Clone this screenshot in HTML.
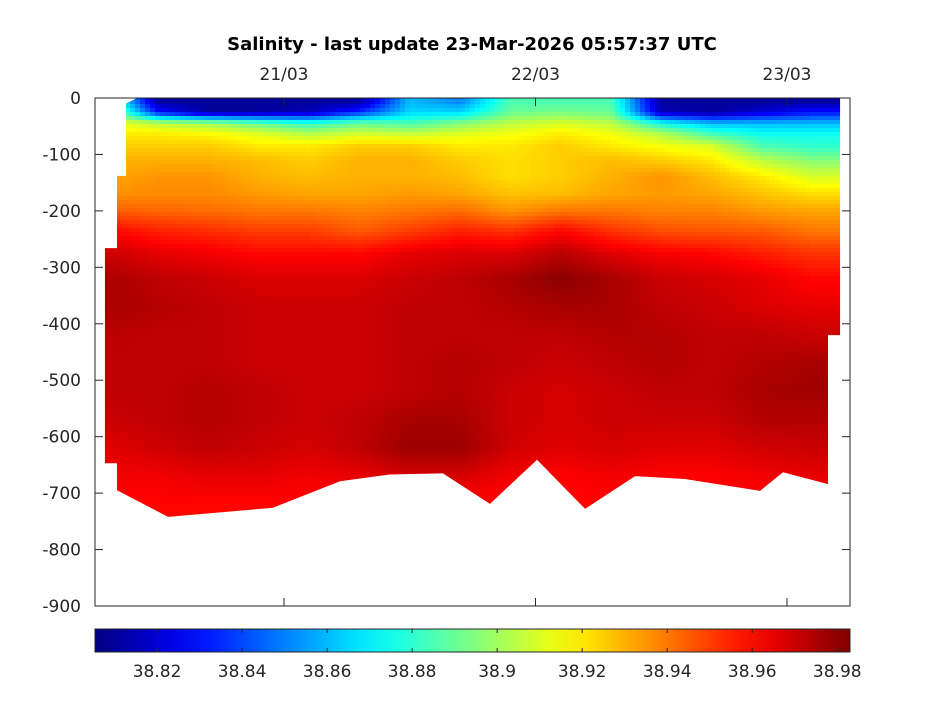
<!DOCTYPE html>
<html><head><meta charset="utf-8"><style>
body{margin:0;background:#fff;}
svg text{font-family:"DejaVu Sans","Liberation Sans",sans-serif;fill:#262626;}
</style></head><body>
<svg id="chart" width="945" height="709" viewBox="0 0 945 709" xmlns="http://www.w3.org/2000/svg">
<defs>
<linearGradient id="jetgrad" x1="0" x2="1" y1="0" y2="0"></linearGradient>
<clipPath id="dataclip"><polygon id="clipPoly"/></clipPath>
</defs>
<rect x="0" y="0" width="945" height="709" fill="#fff"/>
<text x="472" y="50" text-anchor="middle" font-size="18" font-weight="bold" style="fill:#000">Salinity - last update 23-Mar-2026 05:57:37 UTC</text>
<g clip-path="url(#dataclip)"><g id="cells" shape-rendering="crispEdges"></g></g>
<g id="axes"></g>
<rect x="95" y="629" width="755" height="23" fill="url(#jetgrad)" stroke="#262626" stroke-width="1"/>
<g id="cbticks"></g>
</svg>
<script>
const colTimes=[-0.7,-0.5,-0.3,-0.1,0.1,0.3,0.5,0.7,0.9,1.1,1.3,1.5,1.7,1.9,2.1];
const depthLevels=[5,25,45,65,85,110,140,170,200,235,275,320,370,420,470,520,570,620,670,720];
const salinity=[
[38.89,38.81,38.81,38.81,38.81,38.81,38.86,38.85,38.885,38.885,38.885,38.81,38.81,38.81,38.81],
[38.905,38.83,38.81,38.81,38.815,38.835,38.865,38.865,38.89,38.893,38.89,38.815,38.81,38.82,38.83],
[38.915,38.905,38.9,38.89,38.88,38.89,38.885,38.895,38.905,38.91,38.905,38.875,38.86,38.86,38.86],
[38.92,38.92,38.918,38.912,38.905,38.91,38.908,38.912,38.915,38.92,38.915,38.905,38.885,38.875,38.875],
[38.925,38.925,38.925,38.92,38.92,38.925,38.925,38.92,38.92,38.925,38.92,38.915,38.91,38.885,38.88],
[38.93,38.93,38.93,38.928,38.925,38.93,38.93,38.925,38.922,38.925,38.928,38.925,38.92,38.905,38.895],
[38.932,38.935,38.935,38.93,38.928,38.93,38.93,38.928,38.922,38.925,38.93,38.935,38.928,38.92,38.91],
[38.935,38.937,38.937,38.934,38.932,38.932,38.934,38.932,38.927,38.928,38.932,38.934,38.932,38.927,38.922],
[38.945,38.943,38.942,38.94,38.94,38.938,38.94,38.942,38.935,38.94,38.94,38.938,38.938,38.934,38.932],
[38.96,38.955,38.953,38.95,38.95,38.945,38.95,38.955,38.952,38.96,38.952,38.947,38.946,38.945,38.94],
[38.97,38.965,38.963,38.96,38.96,38.96,38.965,38.967,38.967,38.973,38.966,38.962,38.96,38.956,38.952],
[38.976,38.972,38.97,38.967,38.967,38.967,38.97,38.972,38.976,38.981,38.976,38.97,38.968,38.965,38.96],
[38.976,38.974,38.972,38.97,38.97,38.97,38.972,38.972,38.974,38.976,38.976,38.972,38.97,38.967,38.965],
[38.973,38.972,38.972,38.97,38.97,38.97,38.972,38.972,38.972,38.972,38.974,38.974,38.972,38.972,38.97],
[38.972,38.972,38.972,38.97,38.97,38.97,38.972,38.974,38.972,38.97,38.972,38.974,38.972,38.974,38.976],
[38.972,38.972,38.974,38.972,38.97,38.97,38.972,38.974,38.97,38.968,38.97,38.972,38.972,38.976,38.977],
[38.97,38.972,38.974,38.972,38.97,38.972,38.976,38.976,38.97,38.968,38.97,38.97,38.97,38.974,38.974],
[38.966,38.969,38.972,38.97,38.968,38.972,38.978,38.978,38.969,38.966,38.968,38.966,38.966,38.969,38.97],
[38.963,38.963,38.965,38.965,38.963,38.965,38.968,38.968,38.963,38.961,38.963,38.961,38.961,38.963,38.965],
[38.96,38.96,38.96,38.96,38.96,38.96,38.96,38.96,38.96,38.96,38.96,38.96,38.96,38.96,38.96]
];
const outlineTimes=[-0.712,-0.664,-0.664,-0.628,-0.628,-0.584,2.211,2.211,2.163,2.163,1.984,1.893,1.594,1.396,1.197,1.006,0.819,0.632,0.421,0.223,-0.044,-0.461,-0.664,-0.664,-0.712];
const outlineDepths=[266,266,138,138,10,0,0,420,420,684,663,696,675,670,728,641,719,665,667,679,726,742,695,647,647];
const yTicks=[0,100,200,300,400,500,600,700,800,900];
const yTickLabels=["0","-100","-200","-300","-400","-500","-600","-700","-800","-900"];
const xTicks=[0,1,2];
const xTickLabels=["21/03","22/03","23/03"];
const cbTicks=[38.82,38.84,38.86,38.88,38.9,38.92,38.94,38.96,38.98];
const cbTickLabels=["38.82","38.84","38.86","38.88","38.9","38.92","38.94","38.96","38.98"];
const cMin=38.8054,cMax=38.983;
const NS="http://www.w3.org/2000/svg";
const X=t=>284+251.5*t;
const Xinv=x=>(x-284)/251.5;
const Y=d=>98+d*(508/900);
const Yinv=y=>(y-98)*900/508;
const CB=v=>95+(v-cMin)/(cMax-cMin)*755;
function jet(v){let n=(v-cMin)/(cMax-cMin);n=Math.max(0,Math.min(1,n));
 const c=x=>Math.round(255*Math.max(0,Math.min(1,1.5-Math.abs(x))));
 return `rgb(${c(4*n-3)},${c(4*n-2)},${c(4*n-1)})`;}
function mk(tag,attrs,parent){const e=document.createElementNS(NS,tag);for(const k in attrs)e.setAttribute(k,attrs[k]);parent.appendChild(e);return e;}
function locate(arr,v){if(v<=arr[0])return [0,0,0];const n=arr.length-1;if(v>=arr[n])return [n,n,0];
 for(let i=0;i<n;i++){if(v>=arr[i]&&v<=arr[i+1])return [i,i+1,(v-arr[i])/(arr[i+1]-arr[i])];}}
function sample(t,d){const [c0,c1,fc]=locate(colTimes,t);const [r0,r1,fr]=locate(depthLevels,d);
 const a=salinity[r0][c0]*(1-fc)+salinity[r0][c1]*fc;const b=salinity[r1][c0]*(1-fc)+salinity[r1][c1]*fc;return a*(1-fr)+b*fr;}
const cells=document.getElementById('cells');
const stepX=5,stepY=4;
for(let y=96;y<525;y+=stepY){for(let x=100;x<845;x+=stepX){
 const v=sample(Xinv(x+stepX/2),Yinv(y+stepY/2));
 const el=mk('rect',{x:x,y:y,width:stepX,height:stepY,fill:jet(v)},cells);
 
 
}}
document.getElementById('clipPoly').setAttribute('points',outlineTimes.map((t,i)=>X(t)+','+Y(outlineDepths[i])).join(' '));
const ax=document.getElementById('axes');
const st={stroke:'#262626','stroke-width':1,fill:'none'};
const box=mk('rect',Object.assign({x:95,y:98,width:755,height:508},st),ax);


yTicks.forEach((d,i)=>{const y=Y(d);
 mk('line',Object.assign({x1:95,x2:103,y1:y,y2:y},st),ax);
 mk('line',Object.assign({x1:850,x2:842,y1:y,y2:y},st),ax);
 const tx=mk('text',{x:81,y:y+6,'text-anchor':'end','font-size':17},ax);tx.textContent=yTickLabels[i];
 
 });
xTicks.forEach((t,i)=>{const x=X(t);
 mk('line',Object.assign({x1:x,x2:x,y1:98,y2:106},st),ax);
 mk('line',Object.assign({x1:x,x2:x,y1:606,y2:598},st),ax);
 const tx=mk('text',{x:x,y:80,'text-anchor':'middle','font-size':17},ax);tx.textContent=xTickLabels[i];
 
 });
const g=document.getElementById('jetgrad');
for(let i=0;i<=20;i++){const v=cMin+(cMax-cMin)*i/20;mk('stop',{offset:(i*5)+'%','stop-color':jet(v)},g);}
const cbg=document.getElementById('cbticks');
cbTicks.forEach((v,i)=>{const x=CB(v);
 mk('line',Object.assign({x1:x,x2:x,y1:629,y2:633},st),cbg);
 mk('line',Object.assign({x1:x,x2:x,y1:652,y2:648},st),cbg);
 const tx=mk('text',{x:x,y:677,'text-anchor':'middle','font-size':17},cbg);tx.textContent=cbTickLabels[i];
 
 });
</script>
</body></html>
